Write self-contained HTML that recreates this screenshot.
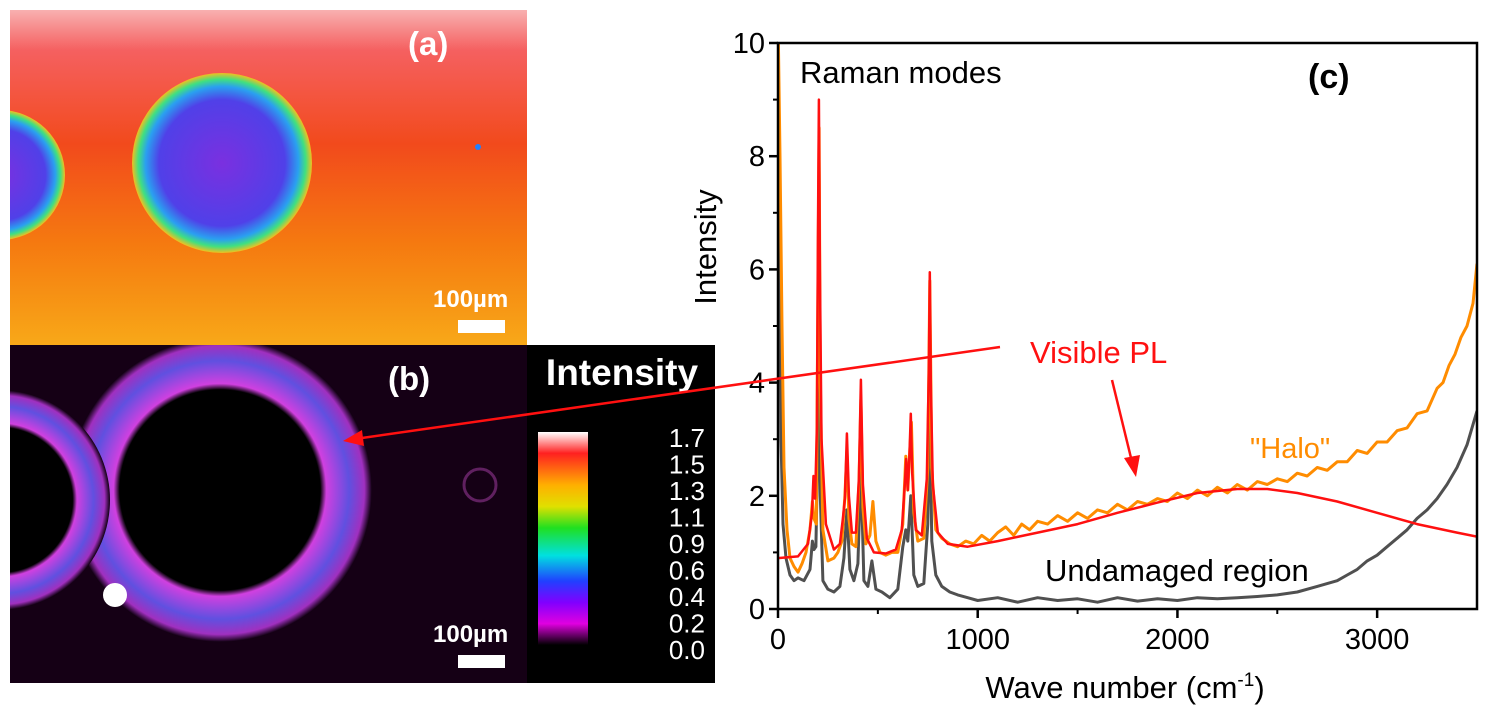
<!DOCTYPE html>
<html><head><meta charset="utf-8"><style>
html,body{margin:0;padding:0;background:#fff;}
svg{display:block;font-family:"Liberation Sans",sans-serif;}
</style></head><body>
<svg id="fig" width="1500" height="717" viewBox="0 0 1500 717">
<defs>
<linearGradient id="gA" x1="0" y1="0" x2="0" y2="1">
<stop offset="0" stop-color="#f8b0b0"/><stop offset="0.12" stop-color="#f56060"/><stop offset="0.4" stop-color="#f24a1c"/><stop offset="0.7" stop-color="#f57a10"/><stop offset="1" stop-color="#f8a818"/></linearGradient>
<radialGradient id="gCirc" cx="0.5" cy="0.5" r="0.5">
<stop offset="0" stop-color="#7a30e0"/><stop offset="0.7" stop-color="#5040e8"/><stop offset="0.85" stop-color="#2aa0f0"/><stop offset="0.93" stop-color="#40e080"/><stop offset="1" stop-color="#f0c020"/></radialGradient>
<radialGradient id="gRing" cx="0.5" cy="0.5" r="0.5">
<stop offset="0" stop-color="#000"/><stop offset="0.66" stop-color="#000"/><stop offset="0.7" stop-color="#d040e0"/><stop offset="0.85" stop-color="#6050e0"/><stop offset="0.95" stop-color="#a030c0"/><stop offset="1" stop-color="#100010"/></radialGradient>
<linearGradient id="gBar" x1="0" y1="0" x2="0" y2="1">
<stop offset="0" stop-color="#ffffff"/><stop offset="0.1" stop-color="#ff2020"/><stop offset="0.25" stop-color="#ffb000"/><stop offset="0.35" stop-color="#e0e000"/><stop offset="0.45" stop-color="#20e020"/><stop offset="0.58" stop-color="#00e0e0"/><stop offset="0.7" stop-color="#2040ff"/><stop offset="0.8" stop-color="#8000ff"/><stop offset="0.9" stop-color="#e000e0"/><stop offset="1" stop-color="#000"/></linearGradient>
<clipPath id="cA"><rect x="10" y="10" width="517" height="335"/></clipPath>
<clipPath id="cB"><rect x="10" y="345" width="517" height="338"/></clipPath>
<clipPath id="cPlot"><rect x="778" y="43" width="699" height="566"/></clipPath>
</defs>

<g clip-path="url(#cA)">
<rect x="10" y="10" width="517" height="335" fill="url(#gA)"/>
<circle cx="222" cy="163" r="90" fill="url(#gCirc)"/>
<circle cx="0" cy="175" r="65" fill="url(#gCirc)"/>
<circle cx="478" cy="147" r="3" fill="#2080ff"/>
</g>
<text x="408" y="55" font-size="33" font-weight="bold" fill="#fff">(a)</text>
<text x="433" y="307" font-size="24" font-weight="bold" fill="#fff">100µm</text>
<rect x="458" y="320" width="47" height="13" fill="#fff"/>

<rect x="527" y="345" width="188" height="338" fill="#000"/>
<g clip-path="url(#cB)">
<rect x="10" y="345" width="517" height="338" fill="#150015"/>
<circle cx="220" cy="490" r="152" fill="url(#gRing)"/>
<circle cx="0" cy="500" r="110" fill="url(#gRing)"/>
<circle cx="480" cy="485" r="16" fill="none" stroke="#602060" stroke-width="3"/>
<circle cx="115" cy="595" r="12" fill="#fff"/>
</g>
<text x="388" y="390" font-size="33" font-weight="bold" fill="#fff">(b)</text>
<text x="433" y="642" font-size="24" font-weight="bold" fill="#fff">100µm</text>
<rect x="458" y="655" width="47" height="13" fill="#fff"/>
<text x="622" y="385" font-size="37" font-weight="bold" fill="#fff" text-anchor="middle">Intensity</text>
<rect x="538" y="432" width="50" height="213" fill="url(#gBar)"/>
<g id="cbLabels"></g>

<g id="chart"></g>
</svg>
<script>
const cbTicks=["1.7","1.5","1.3","1.1","0.9","0.6","0.4","0.2","0.0"];
const xTicks=[0,1000,2000,3000];
const yTicks=[0,2,4,6,8,10];
const redX=[0,100,150,170,178,186,195,200,205,210,218,240,280,310,325,335,345,355,370,390,405,415,425,445,480,540,590,620,635,642,650,658,665,672,690,720,745,755,760,765,775,800,850,950,1100,1300,1500,1700,1900,2100,2300,2450,2600,2800,3000,3200,3400,3500];
const redY=[0.9,0.93,1.15,1.7,2.35,1.95,3.2,6.5,9.0,6.0,3.0,1.5,1.05,1.15,1.6,1.95,3.1,2.0,1.35,1.35,2.3,4.05,2.2,1.25,1.0,0.98,1.05,1.4,2.2,2.65,2.1,2.7,3.45,2.4,1.4,1.3,2.3,4.2,5.95,4.0,2.2,1.35,1.15,1.1,1.2,1.35,1.5,1.7,1.88,2.05,2.12,2.12,2.05,1.9,1.7,1.5,1.35,1.28];
const orX=[0,10,20,30,45,60,80,100,120,140,160,172,180,192,200,206,212,225,250,280,300,320,335,345,355,370,390,405,415,425,440,460,475,490,510,540,570,600,625,640,650,660,668,680,700,730,750,760,770,790,820,860,900,940,980,1020,1060,1100,1140,1180,1220,1260,1300,1350,1400,1450,1500,1550,1600,1650,1700,1750,1800,1850,1900,1950,2000,2050,2100,2150,2200,2250,2300,2350,2400,2450,2500,2550,2600,2650,2700,2750,2800,2850,2900,2950,3000,3050,3100,3150,3200,3250,3300,3330,3360,3390,3420,3450,3480,3500];
const orY=[10.5,8,5,2.5,1.4,0.9,0.75,0.65,0.8,1.0,1.4,1.9,1.6,1.5,5.5,8.5,4,1.4,0.85,0.9,1.0,1.2,2.0,2.8,1.6,1.15,1.1,2.2,3.7,1.8,1.15,1.3,1.9,1.2,1.0,0.95,1.0,1.0,1.5,2.7,2.1,2.8,3.3,1.7,1.2,1.25,2.5,5.8,2.5,1.4,1.25,1.15,1.1,1.2,1.15,1.3,1.2,1.35,1.45,1.3,1.5,1.4,1.55,1.5,1.65,1.55,1.7,1.6,1.75,1.7,1.85,1.75,1.9,1.85,1.95,1.9,2.05,1.95,2.1,2.0,2.15,2.05,2.2,2.1,2.25,2.2,2.3,2.25,2.4,2.35,2.5,2.45,2.6,2.6,2.8,2.75,2.95,2.95,3.15,3.2,3.45,3.5,3.9,4.0,4.3,4.5,4.8,5.0,5.4,6.1];
const grX=[0,8,15,25,40,60,80,100,130,160,172,180,190,200,206,212,225,250,280,310,330,345,360,380,400,415,430,450,470,490,520,560,600,625,640,650,665,680,700,730,750,760,770,790,820,860,900,950,1000,1100,1200,1300,1400,1500,1600,1700,1800,1900,2000,2100,2200,2300,2400,2500,2600,2700,2800,2850,2900,2950,3000,3050,3100,3150,3200,3250,3300,3350,3400,3450,3500];
const grY=[10.5,6,3,1.5,0.9,0.6,0.5,0.55,0.5,0.7,1.2,1.05,1.1,3.0,4.5,2.0,0.5,0.35,0.3,0.4,0.9,1.75,0.7,0.5,0.8,2.5,0.5,0.4,0.85,0.35,0.3,0.2,0.35,1.1,1.4,1.2,2.0,0.6,0.4,0.45,1.5,3.5,1.2,0.6,0.4,0.3,0.25,0.2,0.15,0.2,0.12,0.2,0.15,0.18,0.12,0.2,0.14,0.18,0.15,0.2,0.18,0.2,0.22,0.25,0.3,0.4,0.5,0.6,0.7,0.85,0.95,1.1,1.25,1.4,1.6,1.75,1.95,2.2,2.5,2.9,3.5];

const NS="http://www.w3.org/2000/svg";
const chart=document.getElementById('chart');
const X0=778,X1=1477,Y0=609,Y1=43,XMAX=3500,YMAX=10;
function sx(v){return X0+v/XMAX*(X1-X0);}
function sy(v){return Y0-v/YMAX*(Y0-Y1);}
function mk(tag,attrs,parent){const e=document.createElementNS(NS,tag);for(const k in attrs)e.setAttribute(k,attrs[k]);(parent||chart).appendChild(e);return e;}

const cb=document.getElementById('cbLabels');
cbTicks.forEach((t,i)=>{
  const e=mk('text',{x:705,y:447+i*26.5,'font-size':26,fill:'#fff','text-anchor':'end'},cb);
  e.textContent=t;
  
  
});

const plot=mk('g',{'clip-path':'url(#cPlot)'});


function line(xs,ys,color,w,name){
  const d=xs.map((x,i)=>(i?'L':'M')+sx(x).toFixed(1)+','+sy(ys[i]).toFixed(1)).join(' ');
  const p=mk('path',{d:d,fill:'none',stroke:color,'stroke-width':w,'stroke-linejoin':'round'},plot);
  
  
}
line(grX,grY,'#505050',3,'series-undamaged-region');
line(orX,orY,'#ff8c00',3,'series-halo');
line(redX,redY,'#ff1010',2.5,'series-visible-pl-fit');

const frame=mk('rect',{x:X0,y:Y1,width:X1-X0,height:Y0-Y1,fill:'none',stroke:'#000','stroke-width':2.5});



xTicks.forEach(v=>{
  const tk=mk('line',{x1:sx(v),x2:sx(v),y1:Y0,y2:Y0+9,stroke:'#000','stroke-width':2.5});
  
  
  const t=mk('text',{x:sx(v),y:Y0+40,'font-size':29,'text-anchor':'middle',fill:'#000'});
  t.textContent=v;
  
  
});
[500,1500,2500].forEach(v=>{
  const tk=mk('line',{x1:sx(v),x2:sx(v),y1:Y0,y2:Y0+5,stroke:'#000','stroke-width':2});
  
  
});
yTicks.forEach(v=>{
  const tk=mk('line',{x1:X0-9,x2:X0,y1:sy(v),y2:sy(v),stroke:'#000','stroke-width':2.5});
  
  
  const t=mk('text',{x:X0-13,y:sy(v)+10,'font-size':29,'text-anchor':'end',fill:'#000'});
  t.textContent=v;
  
  
});
[1,3,5,7,9].forEach(v=>{
  const tk=mk('line',{x1:X0-5,x2:X0,y1:sy(v),y2:sy(v),stroke:'#000','stroke-width':2});
  
  
});

function txt(s,a,name){const t=mk('text',a);t.textContent=s;return t;}
txt('Intensity',{x:0,y:0,'font-size':31,transform:'translate(716,247) rotate(-90)','text-anchor':'middle',fill:'#000'},'y-axis-title');
const xt=txt('Wave number (cm',{x:1125,y:698,'font-size':31,'text-anchor':'middle',fill:'#000'},'x-axis-title');
const sup=document.createElementNS(NS,'tspan');sup.setAttribute('dy','-12');sup.setAttribute('font-size','19');sup.textContent='-1';xt.appendChild(sup);
const cl=document.createElementNS(NS,'tspan');cl.setAttribute('dy','12');cl.textContent=')';xt.appendChild(cl);
txt('Raman modes',{x:800,y:83,'font-size':31,fill:'#000'},'raman-modes-label');
txt('(c)',{x:1308,y:88,'font-size':34,'font-weight':'bold',fill:'#000'},'panel-c-label');
txt('Visible PL',{x:1030,y:363,'font-size':31,fill:'#ff1010'},'visible-pl-label');
txt('"Halo"',{x:1250,y:458,'font-size':29,fill:'#ff8c00'},'halo-label');
txt('Undamaged region',{x:1045,y:581,'font-size':31,fill:'#000'},'undamaged-region-label');

const a1=mk('line',{x1:1000,y1:347,x2:355,y2:439,stroke:'#ff1010','stroke-width':2.5});


const h1=mk('polygon',{points:'343,441 362,430 364,446',fill:'#ff1010'});


const a2=mk('line',{x1:1112,y1:380,x2:1132,y2:462,stroke:'#ff1010','stroke-width':2.5});


const h2=mk('polygon',{points:'1136,477 1124,458 1140,455',fill:'#ff1010'});


</script>
</body></html>
